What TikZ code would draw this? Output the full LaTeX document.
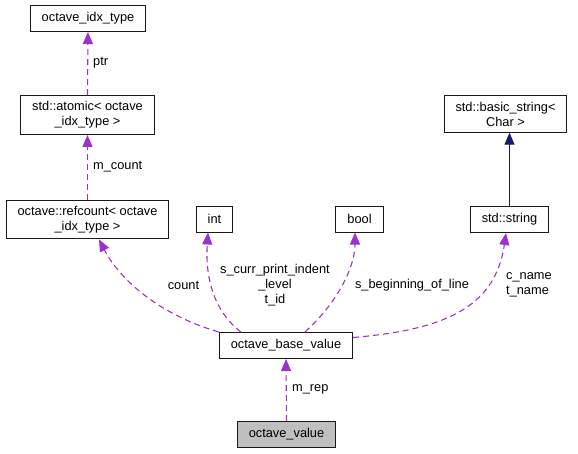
\documentclass[tikz,border=0pt]{standalone}
\usepackage{fontspec}
\setmainfont{Liberation Sans}
\usetikzlibrary{arrows.meta}
\definecolor{edgepurple}{HTML}{9A32CD}
\definecolor{edgeblue}{HTML}{191970}

\begin{document}
\begin{tikzpicture}[x=1pt,y=-1pt,>={Triangle[length=12pt,width=10pt]},
                    font=\fontsize{12.8}{15}\selectfont]
  \tikzstyle{class}=[draw=black!90,fill=white,line width=1pt,align=center,
                     inner xsep=11.5pt,inner ysep=6pt,minimum height=26pt]
  \tikzstyle{member}=[->,draw=edgepurple,line width=1.1pt,
                      dash pattern=on 6pt off 4pt]
  \tikzstyle{inherit}=[->,draw=edgeblue,line width=1pt]
  \tikzstyle{lbl}=[inner sep=1pt]
  \useasboundingbox (0,0) rectangle (578,453);

  \node[class] (idx) at (88,18.5) {octave\_idx\_type};
  \node[class] (atomic) at (87.5,115) {std::atomic< octave\\\_idx\_type >};
  \node[class] (refcount) at (87.5,219.5) {octave::refcount< octave\\\_idx\_type >};
  \node[class] (int) at (214.5,219) {int};
  \node[class] (bool) at (359.5,219) {bool};
  \node[class] (str) at (509.5,219.5) {std::string};
  \node[class] (bstr) at (505.5,114) {std::basic\_string<\\Char >};
  \node[class] (base) at (286,345.5) {octave\_base\_value};
  \node[class,fill=black!25] (val) at (286.5,434.5) {octave\_value};

  \draw[member] (atomic.north) -- (idx.south);
  \draw[member] (refcount.north) -- (atomic.south);
  \draw[member] (base.north west) .. controls (160,315) and (120,280)
    .. ([xshift=11.5pt]refcount.south);
  \draw[member] ([xshift=22pt]base.north west) .. controls (215,312) and (205,280)
    .. ([xshift=-6.5pt]int.south);
  \draw[member] ([xshift=19pt]base.north) .. controls (340,300) and (355,265)
    .. ([xshift=-4.5pt]bool.south);
  \draw[member] ([yshift=8pt]base.east) .. controls (440,330) and (495,310)
    .. ([xshift=-3.5pt]str.south);
  \draw[member] (val.north) -- (base.south);
  \draw[inherit] (str.north) -- (str.north |- bstr.south);

  \node[lbl,anchor=west] (lptr) at (92,63) {ptr};
  \node[lbl,anchor=west] (lmcount) at (92,167) {m\_count};
  \node[lbl] (lcount) at (183.5,285) {count};
  \node[lbl,align=center] (lindent) at (275,285)
    {s\_curr\_print\_indent\\\_level\\t\_id};
  \node[lbl] (lbol) at (412,285) {s\_beginning\_of\_line};
  \node[lbl,align=left,anchor=west] (lname) at (505,285) {c\_name\\t\_name};
  \node[lbl,anchor=west] (lrep) at (291,389) {m\_rep};
\end{tikzpicture}
\end{document}
